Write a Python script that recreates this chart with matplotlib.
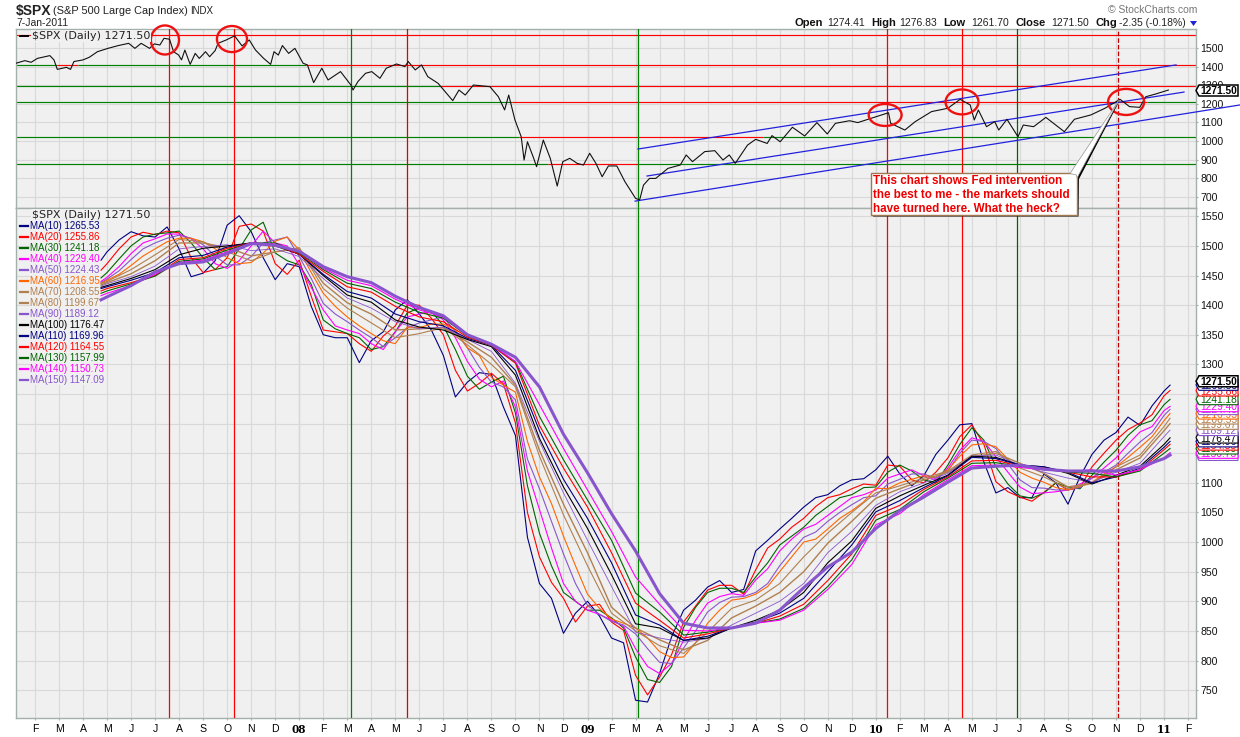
import matplotlib
matplotlib.use('Agg')
import matplotlib.pyplot as plt
from matplotlib.patches import Ellipse, Polygon, Rectangle

W, H = 1240, 737

# x values are months counted from Jan 2007
price_months = [0.21, 0.58, 0.84, 1.10, 1.62, 1.79, 1.93, 2.31, 2.48, 2.62, 3.00, 3.26, 3.60, 4.04, 4.47, 4.90, 5.16, 5.42,
                5.77, 5.97, 6.20, 6.37, 6.60, 6.77, 6.98, 7.10, 7.24, 7.46, 7.67, 7.84, 8.10, 8.27, 8.50, 8.62, 8.96, 9.31,
                9.62, 9.92, 10.18, 10.52, 10.81, 10.95, 11.13, 11.30, 11.56, 11.82, 12.16, 12.34, 12.60, 12.94, 13.20, 13.72,
                14.15, 14.24, 14.44, 14.76, 15.02, 15.36, 15.62, 16.05, 16.40, 16.54, 16.83, 17.09, 17.35, 17.78, 18.39, 18.65,
                18.91, 19.25, 19.94, 20.29, 20.55, 20.72, 20.98, 21.24, 21.36, 21.50, 21.76, 21.88, 22.16, 22.45, 22.74, 22.97,
                23.26, 23.57, 23.83, 24.09, 24.35, 24.61, 24.87, 25.22, 25.56, 26.00, 26.17, 26.33, 26.58, 26.84, 27.35, 27.86,
                28.11, 28.37, 28.88, 29.30, 29.64, 29.90, 30.15, 30.66, 31.00, 31.48, 31.68, 32.02, 32.53, 33.04, 33.55, 33.98,
                34.32, 34.91, 35.25, 35.93, 36.53, 36.62, 37.21, 37.64, 38.32, 39.00, 39.51, 39.93, 40.10, 40.27, 40.61, 40.95,
                41.12, 41.46, 41.92, 42.14, 42.57, 43.08, 43.85, 44.27, 44.95, 45.54, 46.17, 46.56, 46.99, 47.24, 47.66, 48.18]
price_values = [1418, 1432, 1423, 1444, 1459, 1436, 1385, 1396, 1385, 1427, 1436, 1450, 1480, 1498, 1513, 1525, 1498, 1525,
                1498, 1522, 1516, 1552, 1547, 1480, 1462, 1436, 1489, 1412, 1471, 1444, 1480, 1453, 1486, 1525, 1543, 1565,
                1511, 1543, 1489, 1444, 1412, 1480, 1462, 1513, 1471, 1498, 1418, 1409, 1314, 1391, 1328, 1373,
                1301, 1274, 1319, 1364, 1373, 1337, 1391, 1414, 1400, 1427, 1382, 1409, 1346, 1310, 1217, 1274,
                1247, 1301, 1292, 1238, 1167, 1247, 1113, 1023, 898, 996, 907, 862, 1005, 907, 758, 889,
                907, 880, 871, 934, 880, 808, 866, 866, 781, 692, 683, 763, 799, 799, 853, 871,
                925, 889, 943, 948, 898, 925, 880, 978, 1009, 987, 1029, 996, 1074, 1027, 1099, 1038,
                1095, 1109, 1099, 1127, 1152, 1095, 1059, 1104, 1158, 1176, 1224, 1194, 1113, 1167, 1077, 1104,
                1059, 1117, 1023, 1086, 1077, 1127, 1050, 1117, 1140, 1176, 1224, 1185, 1181, 1238, 1253, 1274]

half_months = [3.75] + [4 + 0.5 * i for i in range(89)] + [48.25]
whole_months = [3.75] + list(range(4, 49)) + [48.25]

ma10 = [1476, 1490, 1510, 1524, 1517, 1515, 1532, 1495, 1448, 1454, 1475, 1535, 1551, 1524, 1480, 1443, 1470, 1465, 1398,
        1350, 1345, 1345, 1303, 1340, 1355, 1392, 1409, 1385, 1358, 1315, 1245, 1270, 1286, 1283, 1228, 1180, 1008, 930,
        905, 846, 880, 900, 875, 838, 830, 733, 730, 778, 840, 885, 902, 924, 935, 915, 920, 985, 1003, 1022, 1040, 1059,
        1075, 1080, 1095, 1105, 1107, 1122, 1145, 1115, 1095, 1112, 1148, 1172, 1198, 1200, 1135, 1083, 1092, 1075, 1075,
        1115, 1100, 1064, 1110, 1148, 1172, 1185, 1211, 1197, 1230, 1255, 1265]
ma20 = [1459, 1470, 1495, 1515, 1523, 1519, 1525, 1522, 1480, 1455, 1460, 1480, 1533, 1537, 1525, 1470, 1452, 1476, 1415,
        1358, 1355, 1352, 1335, 1322, 1348, 1365, 1400, 1400, 1378, 1350, 1290, 1255, 1268, 1285, 1267, 1201, 1050, 975,
        932, 905, 865, 892, 895, 865, 851, 775, 742, 772, 810, 865, 892, 919, 927, 927, 912, 953, 990, 1005, 1025, 1040,
        1060, 1075, 1080, 1090, 1098, 1096, 1130, 1128, 1105, 1100, 1118, 1142, 1178, 1198, 1165, 1102, 1085, 1076, 1069,
        1084, 1100, 1088, 1092, 1127, 1150, 1172, 1190, 1201, 1215, 1247, 1256]
ma30 = [1446, 1455, 1478, 1500, 1515, 1520, 1522, 1525, 1505, 1480, 1460, 1465, 1495, 1527, 1540, 1488, 1475, 1468, 1435,
        1375, 1360, 1352, 1345, 1325, 1330, 1355, 1387, 1395, 1390, 1365, 1325, 1280, 1258, 1270, 1280, 1218, 1095, 1015,
        960, 915, 900, 885, 885, 872, 855, 806, 768, 763, 790, 856, 890, 915, 922, 922, 915, 941, 965, 995, 1010, 1025,
        1045, 1060, 1075, 1080, 1092, 1093, 1118, 1130, 1120, 1105, 1100, 1130, 1165, 1193, 1172, 1127, 1098, 1078, 1074,
        1083, 1100, 1093, 1090, 1113, 1135, 1155, 1180, 1198, 1205, 1232, 1241]
ma40 = [1440, 1447, 1465, 1487, 1505, 1512, 1520, 1520, 1512, 1495, 1470, 1462, 1475, 1500, 1525, 1505, 1500, 1468, 1430,
        1392, 1365, 1358, 1352, 1335, 1325, 1355, 1380, 1385, 1390, 1375, 1345, 1305, 1275, 1262, 1272, 1228, 1120, 1055,
        990, 930, 900, 885, 878, 868, 858, 820, 790, 778, 795, 834, 868, 897, 908, 913, 910, 936, 955, 985, 1005, 1022,
        1030, 1045, 1060, 1075, 1080, 1088, 1108, 1115, 1122, 1112, 1105, 1125, 1155, 1176, 1170, 1144, 1118, 1093, 1082,
        1083, 1085, 1088, 1098, 1108, 1125, 1142, 1165, 1186, 1195, 1222, 1229]
ma50 = [1438, 1444, 1458, 1477, 1495, 1505, 1513, 1518, 1513, 1502, 1483, 1468, 1468, 1482, 1505, 1510, 1515, 1482, 1445,
        1403, 1385, 1372, 1358, 1345, 1330, 1345, 1362, 1370, 1375, 1380, 1355, 1328, 1295, 1270, 1262, 1240, 1140, 1090,
        1035, 980, 930, 893, 878, 866, 860, 845, 820, 797, 795, 821, 850, 882, 898, 907, 908, 915, 930, 960, 985, 1008,
        1017, 1035, 1050, 1063, 1075, 1078, 1098, 1106, 1115, 1115, 1108, 1120, 1150, 1172, 1170, 1158, 1132, 1105, 1092,
        1091, 1088, 1088, 1092, 1108, 1118, 1130, 1150, 1169, 1185, 1214, 1224]
ma60 = [1437, 1442, 1452, 1467, 1483, 1495, 1507, 1513, 1513, 1507, 1495, 1480, 1470, 1472, 1488, 1508, 1515, 1493, 1455,
        1420, 1398, 1380, 1365, 1352, 1340, 1335, 1363, 1362, 1368, 1368, 1358, 1328, 1315, 1278, 1265, 1253, 1170, 1110,
        1065, 1010, 960, 912, 888, 870, 863, 855, 838, 815, 805, 806, 830, 863, 885, 902, 905, 912, 925, 950, 975, 1000,
        1005, 1022, 1040, 1053, 1068, 1091, 1090, 1100, 1106, 1112, 1110, 1122, 1145, 1164, 1166, 1161, 1140, 1118, 1108,
        1101, 1092, 1088, 1094, 1101, 1115, 1127, 1143, 1160, 1178, 1205, 1217]

ma70 = [1436, 1440, 1460, 1485, 1511, 1507, 1490, 1475, 1490, 1497, 1428, 1395, 1370, 1345, 1352, 1362, 1333, 1300, 1262, 1145, 1046, 960, 880, 850, 825, 812, 848, 888, 902, 930, 975, 1015, 1050, 1083, 1095, 1108, 1120, 1147, 1153, 1125, 1110, 1090, 1099, 1127, 1147, 1195, 1209]
ma80 = [1434, 1438, 1453, 1475, 1505, 1505, 1497, 1483, 1490, 1496, 1437, 1404, 1385, 1358, 1360, 1362, 1338, 1312, 1265, 1155, 1064, 982, 890, 855, 835, 818, 834, 872, 892, 915, 950, 998, 1035, 1074, 1090, 1105, 1118, 1144, 1150, 1133, 1116, 1093, 1100, 1122, 1142, 1188, 1200]
ma90 = [1432, 1436, 1448, 1466, 1495, 1499, 1502, 1492, 1495, 1482, 1445, 1412, 1395, 1372, 1360, 1363, 1342, 1322, 1268, 1170, 1083, 1003, 925, 848, 838, 831, 837, 860, 880, 900, 930, 982, 1018, 1062, 1085, 1100, 1116, 1145, 1147, 1130, 1118, 1108, 1101, 1118, 1133, 1178, 1189]
ma100 = [1430, 1433, 1445, 1460, 1485, 1496, 1500, 1505, 1500, 1486, 1450, 1417, 1405, 1375, 1363, 1358, 1342, 1330, 1282, 1175, 1093, 1023, 945, 862, 855, 834, 838, 855, 868, 885, 915, 965, 1002, 1057, 1078, 1096, 1113, 1145, 1143, 1130, 1127, 1116, 1098, 1113, 1128, 1165, 1176]
ma110 = [1428, 1431, 1442, 1455, 1480, 1484, 1498, 1505, 1502, 1486, 1452, 1423, 1412, 1385, 1372, 1365, 1344, 1332, 1290, 1188, 1106, 1040, 965, 877, 860, 834, 841, 855, 865, 880, 905, 950, 995, 1051, 1070, 1092, 1112, 1143, 1141, 1130, 1127, 1118, 1100, 1110, 1125, 1160, 1170]
ma120 = [1424, 1428, 1438, 1450, 1477, 1480, 1496, 1505, 1502, 1486, 1457, 1431, 1422, 1398, 1380, 1372, 1346, 1332, 1302, 1197, 1125, 1059, 982, 897, 868, 838, 845, 855, 863, 875, 895, 935, 980, 1045, 1062, 1089, 1110, 1137, 1138, 1128, 1125, 1118, 1110, 1110, 1122, 1156, 1165]
ma130 = [1420, 1424, 1436, 1449, 1474, 1478, 1493, 1505, 1505, 1488, 1460, 1437, 1428, 1405, 1388, 1378, 1348, 1333, 1304, 1212, 1139, 1071, 1003, 914, 882, 843, 848, 855, 863, 870, 888, 925, 970, 1037, 1055, 1085, 1108, 1133, 1134, 1128, 1123, 1118, 1116, 1110, 1120, 1150, 1158]
ma140 = [1416, 1420, 1433, 1452, 1472, 1476, 1490, 1505, 1503, 1490, 1462, 1442, 1433, 1410, 1392, 1380, 1349, 1333, 1305, 1232, 1158, 1088, 1018, 941, 895, 851, 850, 855, 863, 868, 885, 920, 962, 1029, 1048, 1080, 1105, 1129, 1130, 1126, 1122, 1119, 1122, 1113, 1122, 1142, 1151]
ma150 = [1409, 1414, 1433, 1456, 1470, 1473, 1487, 1504, 1501, 1491, 1465, 1448, 1438, 1415, 1396, 1382, 1350, 1334, 1312, 1262, 1182, 1117, 1048, 985, 913, 863, 855, 855, 863, 885, 923, 958, 983, 1023, 1053, 1076, 1101, 1125, 1128, 1130, 1123, 1120, 1120, 1120, 1127, 1141, 1147]

ma_names = ['MA(10)', 'MA(20)', 'MA(30)', 'MA(40)', 'MA(50)', 'MA(60)', 'MA(70)', 'MA(80)', 'MA(90)',
            'MA(100)', 'MA(110)', 'MA(120)', 'MA(130)', 'MA(140)', 'MA(150)']
ma_last = ['1265.53', '1255.86', '1241.18', '1229.40', '1224.43', '1216.95', '1208.55', '1199.67', '1189.12',
           '1176.47', '1169.96', '1164.55', '1157.99', '1150.73', '1147.09']
ma_colors = ['#000080', '#ff0000', '#006400', '#ff00ff', '#8855cc', '#ff6600', '#b08050', '#b08050', '#8855cc',
             '#000000', '#000080', '#ff0000', '#006400', '#ff00ff', '#8855cc']
ma_widths = [0.8, 0.8, 0.8, 0.8, 0.8, 0.8, 0.8, 1.0, 0.6, 0.8, 0.8, 0.8, 0.8, 0.8, 2.2]
ma_series = [(half_months, ma10), (half_months, ma20), (half_months, ma30), (half_months, ma40), (half_months, ma50),
             (half_months, ma60), (whole_months, ma70), (whole_months, ma80), (whole_months, ma90), (whole_months, ma100),
             (whole_months, ma110), (whole_months, ma120), (whole_months, ma130), (whole_months, ma140), (whole_months, ma150)]

month_ticks = list(range(1, 50))
month_labels = ['F', 'M', 'A', 'M', 'J', 'J', 'A', 'S', 'O', 'N', 'D', '08',
                'F', 'M', 'A', 'M', 'J', 'J', 'A', 'S', 'O', 'N', 'D', '09',
                'F', 'M', 'A', 'M', 'J', 'J', 'A', 'S', 'O', 'N', 'D', '10',
                'F', 'M', 'A', 'M', 'J', 'J', 'A', 'S', 'O', 'N', 'D', '11', 'F']
year_ticks = [12, 24, 36, 48]
top_ticks = [700, 800, 900, 1000, 1100, 1200, 1300, 1400, 1500]
bottom_ticks = list(range(750, 1551, 50))

# drawn markers: month, colour, style
marker_lines = [(6.58, '#ff0000', '-'), (9.28, '#ff0000', '-'), (14.15, '#008000', '-'), (16.49, '#e00000', '-'),
                (26.1, '#008000', '-'), (36.47, '#ff0000', '-'), (39.59, '#ff0000', '-'), (41.88, '#006400', '-'),
                (46.09, '#c00000', '--')]
# level, then (start month, end month, colour)
level_lines = [(1570, [(0.21, 49.33, '#ff0000')]),
               (1411, [(0.21, 1.9, '#008000'), (1.9, 2.8, '#ff0000'), (2.8, 12.3, '#008000'), (12.3, 49.33, '#ff0000')]),
               (1297, [(0.21, 17.86, '#008000'), (17.86, 49.33, '#ff0000')]),
               (1212, [(0.21, 20.87, '#008000'), (20.87, 47.3, '#ff0000'), (47.3, 49.33, '#008000')]),
               (1019, [(0.21, 21.15, '#008000'), (21.15, 31.3, '#ff0000'), (31.3, 49.33, '#008000')]),
               (874, [(0.21, 22.35, '#008000'), (22.35, 26.1, '#ff0000'), (26.1, 49.33, '#008000')])]
trend_lines = [((26.1, 48.5), (957, 1409)), ((26.48, 48.83), (812, 1263)), ((25.98, 51.17), (677, 1194))]
# centre month, centre level, width in months, height in points
circles = [(6.41, 1543, 1.17, 156), (9.2, 1548, 1.25, 140), (36.39, 1140, 1.37, 118),
           (39.59, 1210, 1.37, 134), (46.42, 1210, 1.5, 140)]

plt.rcParams['font.family'] = ['Liberation Sans', 'DejaVu Sans']
PANEL = '#f0f0f0'
GRID = '#d9d9d9'
FRAME = '#a4b0aa'

fig = plt.figure(figsize=(W / 100, H / 100), dpi=100, facecolor='white')


def fx(x):
    return x / W


def fy(y):
    return 1 - y / H


def add_tag(y, label, edge, z, bold=False):
    # value tag with a small pointer to the axis, y in picture pixels
    pts = [(1196, y), (1199, y - 5.5), (1238, y - 5.5), (1238, y + 5.5), (1199, y + 5.5)]
    fig.add_artist(Polygon([(fx(a), fy(b)) for a, b in pts], closed=True, fc='white', ec=edge,
                           lw=1.1 if bold else 0.8, transform=fig.transFigure, zorder=z))
    fig.text(fx(1200), fy(y + 4), label, fontsize=7.4 if bold else 7.4, fontweight='bold' if bold else 'normal',
             va='baseline', color='black' if bold else edge, zorder=z + 0.01)


ax_top = fig.add_axes([fx(16), fy(208), (1196 - 16) / W, (208 - 29) / H])
ax_bot = fig.add_axes([fx(16), fy(718), (1196 - 16) / W, (718 - 208) / H])

for ax, yl, ticks in ((ax_top, (640, 1602), top_ticks), (ax_bot, (703, 1564), bottom_ticks)):
    ax.set_facecolor(PANEL)
    ax.set_xlim(0.21, 49.33)
    ax.set_ylim(*yl)
    ax.yaxis.tick_right()
    ax.set_yticks(ticks)
    ax.set_xticks(month_ticks)
    ax.grid(True, color=GRID, lw=0.8, zorder=0)
    ax.set_axisbelow(True)
    ax.tick_params(axis='y', length=1.5, width=0.8, color=FRAME, labelsize=7.6, pad=1.5, labelcolor='#111111')
    for s in ax.spines.values():
        s.set_color(FRAME)
        s.set_linewidth(1.0)
    for t in year_ticks:
        ax.axvline(t, color='#b4bcb8', lw=0.9, zorder=0.5)
    for m, c, ls in marker_lines:
        ax.axvline(m, color=c, ls=ls, lw=0.9, zorder=3)

ax_top.tick_params(axis='x', length=0, labelbottom=False)
ax_bot.set_xticklabels(month_labels)
ax_bot.tick_params(axis='x', length=1.5, width=0.8, color=FRAME, labelsize=7.6, pad=2.5)
for lab in ax_bot.get_xticklabels():
    if lab.get_text() in ('08', '09', '10', '11'):
        lab.set_fontweight('bold')
        lab.set_family('DejaVu Serif')

# upper panel
for level, parts in level_lines:
    for a, b, c in parts:
        ax_top.plot([a, b], [level, level], color=c, lw=0.85, zorder=2, solid_capstyle='butt')
for xs, ys in trend_lines:
    ax_top.plot(xs, ys, color='#2222dd', lw=0.9, zorder=3, clip_on=False)
ax_top.plot(price_months, price_values, color='#111111', lw=0.8, zorder=4)
for mx, lv, w, h in circles:
    ax_top.add_patch(Ellipse((mx, lv), w, h, fill=False, ec='#ee1111', lw=1.7, zorder=5, clip_on=False))

# lower panel
for (xs, ys), c, lw in zip(ma_series, ma_colors, ma_widths):
    ax_bot.plot(xs, ys, color=c, lw=lw, zorder=4)

# value tags on the right, highest on top
lo, hi = ax_bot.get_ylim()
for i in range(14, -1, -1):
    y_px = 718 - (float(ma_last[i]) - lo) / (hi - lo) * 510
    add_tag(y_px, ma_last[i], ma_colors[i], 6 + (15 - i) * 0.1)
add_tag(718 - (1271.5 - lo) / (hi - lo) * 510, '1271.50', 'black', 8, bold=True)
lo, hi = ax_top.get_ylim()
add_tag(208 - (1271.5 - lo) / (hi - lo) * 179, '1271.50', 'black', 8, bold=True)

# panel legends
fig.text(fx(32), fy(36), '$SPX (Daily) 1271.50', family='DejaVu Sans', fontsize=8, va='center', color='#222222',
         bbox=dict(fc=PANEL, ec='none', pad=0.5), zorder=6, parse_math=False)
fig.add_artist(plt.Line2D([fx(20), fx(28)], [fy(36), fy(36)], color='black', lw=1.4, zorder=7))
fig.text(fx(32), fy(215), '$SPX (Daily) 1271.50', family='DejaVu Sans', fontsize=8, va='center', color='#222222',
         bbox=dict(fc=PANEL, ec='none', pad=0.5), zorder=6, parse_math=False)
for i, (name, last, c) in enumerate(zip(ma_names, ma_last, ma_colors)):
    y = 226 + i * 11
    fig.add_artist(plt.Line2D([fx(20), fx(28)], [fy(y), fy(y)], color=c, lw=1.6, zorder=7))
    fig.text(fx(30), fy(y), f'{name} {last}', fontsize=7.0, va='center', color=c,
             bbox=dict(fc=PANEL, ec='none', pad=0.3), zorder=6)

# title row
fig.text(fx(16), fy(11), '$SPX', fontsize=10, fontweight='bold', va='center', color='#222222', parse_math=False)
fig.text(fx(53), fy(11), '(S&P 500 Large Cap Index)', fontsize=7.9, va='center', color='#222222')
fig.text(fx(190), fy(11), 'INDX', fontsize=7, va='center', color='#222222')
fig.text(fx(16), fy(23), '7-Jan-2011', fontsize=7.5, va='center', color='#222222')
fig.text(fx(1197), fy(10), '\u00a9 StockCharts.com', fontsize=7.5, va='center', ha='right', color='#777777')

quote = [('Open', 794, 827, '1274.41'), ('High', 871, 899, '1276.83'), ('Low', 943, 971, '1261.70'),
         ('Close', 1015, 1051, '1271.50'), ('Chg', 1095, 1119, '-2.35 (-0.18%)')]
for lab, x1, x2, val in quote:
    fig.text(fx(x1), fy(23), lab, fontsize=8, fontweight='bold', va='center', color='#111111')
    fig.text(fx(x2), fy(23), val, fontsize=7.5, va='center', color='#222222')
fig.add_artist(Polygon([(fx(1190), fy(21)), (fx(1197), fy(21)), (fx(1193.5), fy(26))], closed=True, fc='#2222dd',
                       ec='none', transform=fig.transFigure, zorder=7))

# callout
shadow = [(fx(1070), fy(174)), (fx(1120), fy(100)), (fx(1079), fy(179)), (fx(1078.5), fy(216.5)), (fx(873), fy(216.5)), (fx(873), fy(215))]
fig.add_artist(Polygon(shadow, closed=True, fc='black', ec='none', transform=fig.transFigure, zorder=8.5))
fig.add_artist(Rectangle((fx(871), fy(215)), 206 / W, 42 / H, fc='white', ec='#a07850', lw=1.0,
                         transform=fig.transFigure, zorder=8.6))
wedge = [(fx(1070), fy(173.5)), (fx(1119), fy(100)), (fx(1077), fy(178)), (fx(1076.5), fy(175))]
fig.add_artist(Polygon(wedge, closed=True, fc='white', ec='#999999', lw=0.5, transform=fig.transFigure, zorder=8.7))
for i, line in enumerate(['This chart shows Fed intervention', 'the best to me - the markets should',
                          'have turned here. What the heck?']):
    fig.text(fx(873), fy(180.5 + i * 14), line, fontsize=8.4, fontweight='bold', va='center', color='#ee0000', zorder=9)

fig.savefig('out.png', dpi=100, facecolor='white')
